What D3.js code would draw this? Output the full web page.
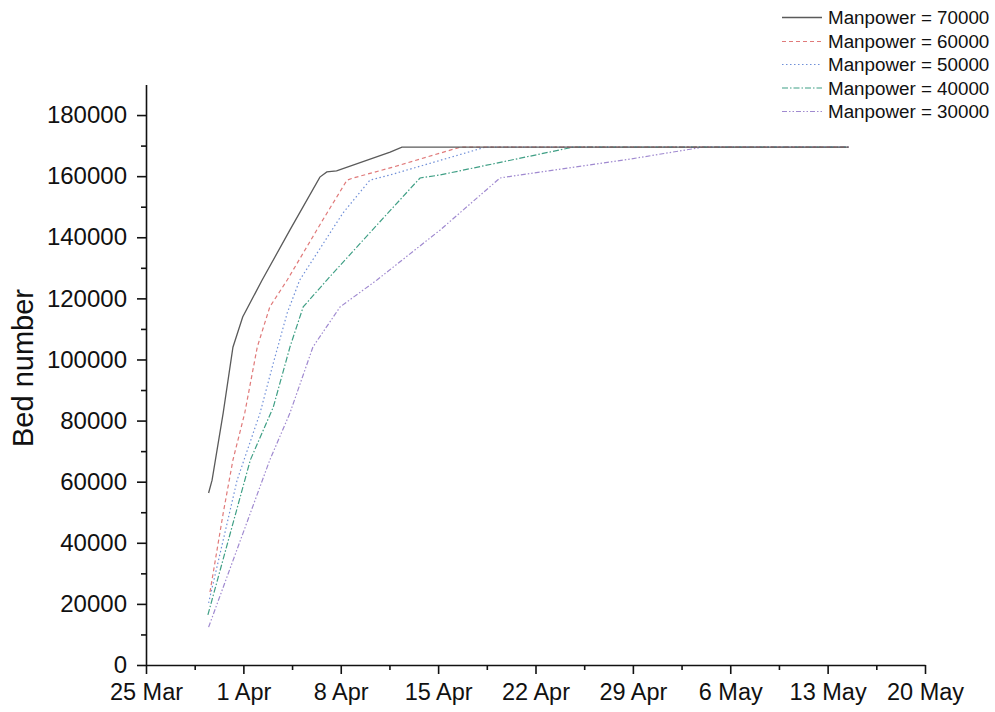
<!DOCTYPE html>
<html><head><meta charset="utf-8">
<script src="https://cdn.jsdelivr.net/npm/d3@7"></script>
<style>body{margin:0;background:#fff}text{font-family:"Liberation Sans",Arial,sans-serif}</style>
</head><body><svg id="c" width="995" height="712"></svg>
<script>
// Days are measured from 25 Mar 2020
const seriesNames = ["Manpower = 70000","Manpower = 60000","Manpower = 50000","Manpower = 40000","Manpower = 30000"];
const days70 = [4.5,4.75,5.55,6.25,6.95,8.35,10.35,12.5,13.0,13.7,17.55,18.4,50.5];
const beds70 = [56300,60500,82500,104000,113900,126000,142400,159700,161400,161700,167900,169500,169500];
const days60 = [4.6,5.55,6.25,7.1,8.0,8.9,10.15,12.7,14.45,14.9,17.55,22.6,50.5];
const beds60 = [23900,49700,67100,82500,104100,117200,126000,145600,158700,159400,162700,169500,169500];
const days50 = [4.5,6.55,8.2,9.15,10.15,11.05,14.15,16.1,17.55,24.4,50.5];
const beds50 = [20300,60500,82500,98800,115200,126000,147900,158700,160400,169500,169500];
const days40 = [4.45,7.5,9.15,10.35,11.3,13.0,16.8,19.7,21.15,30.7,50.5];
const beds40 = [16400,67100,84400,104100,117200,126000,145000,159400,160400,169500,169500];
const days30 = [4.5,8.9,10.35,12.0,13.95,16.6,21.15,25.45,26.9,34.8,40.05,50.5];
const beds30 = [12400,67100,82500,104100,117200,126000,142400,159400,160400,165600,169500,169500];
const xTickLabels = ["25 Mar","1 Apr","8 Apr","15 Apr","22 Apr","29 Apr","6 May","13 May","20 May"];
const yTicks = [0,20000,40000,60000,80000,100000,120000,140000,160000,180000];

const base = new Date(2020,2,25);
const toDate = d => new Date(base.getTime() + d*864e5);
const allDays = [days70,days60,days50,days40,days30];
const allBeds = [beds70,beds60,beds50,beds40,beds30];
const styles = [
  {color:"#5a5a5a", dash:null, w:1.3},
  {color:"#e07a7a", dash:"4,3", w:1.2},
  {color:"#6f8fd8", dash:"1.5,2.5", w:1.2},
  {color:"#3f9f85", dash:"6,2,1.5,2", w:1.2},
  {color:"#a08ad0", dash:"5,2,1.5,2,1.5,2", w:1.2}
];

const svg = d3.select("#c");
const x = d3.scaleTime().domain([base, toDate(56)]).range([146,925]);
const y = d3.scaleLinear().domain([0,190000]).range([665,84.5]);

// lines (draw lowest first so black is on top)
const line = d3.line().x(p=>x(p[0])).y(p=>y(p[1]));
for (let i=4;i>=0;i--){
  const pts = allDays[i].map((d,j)=>[toDate(d), allBeds[i][j]]);
  svg.append("path").datum(pts).attr("d",line).attr("fill","none")
    .attr("stroke",styles[i].color).attr("stroke-width",styles[i].w)
    .attr("stroke-dasharray",styles[i].dash);
}

// x axis
const xMajor = xTickLabels.map((t,i)=>toDate(i*7));
const xMinor = xTickLabels.slice(0,-1).map((t,i)=>toDate(i*7+3.5));
const gx = svg.append("g").attr("transform","translate(0,665)");
gx.call(d3.axisBottom(x).tickValues(xMinor).tickSize(5).tickFormat(""));
gx.call(g=>g.selectAll(".domain").remove());
const gx2 = svg.append("g").attr("transform","translate(0,665)")
  .call(d3.axisBottom(x).tickValues(xMajor).tickSize(9).tickSizeOuter(0).tickPadding(9)
    .tickFormat((d,i)=>xTickLabels[i]));
gx2.selectAll("text").attr("font-size",23.5).attr("fill","#111");

// y axis
const yMinor = d3.range(10000,190000,20000);
const gy = svg.append("g").attr("transform","translate(146,0)");
gy.call(d3.axisLeft(y).tickValues(yMinor).tickSize(5).tickFormat(""));
gy.call(g=>g.selectAll(".domain").remove());
const gy2 = svg.append("g").attr("transform","translate(146,0)")
  .call(d3.axisLeft(y).tickValues(yTicks).tickSize(9).tickSizeOuter(0).tickPadding(10).tickFormat(d3.format("d")));
gy2.selectAll("text").attr("font-size",24).attr("fill","#111");
svg.selectAll(".domain, .tick line").attr("stroke","#111").attr("stroke-width",1.6);

svg.append("text").attr("transform","translate(33,368) rotate(-90)")
  .attr("text-anchor","middle").attr("font-size",29).attr("fill","#111").text("Bed number");

// legend
const legY = [17.5,41.5,64.5,88,111.5];
seriesNames.forEach((n,i)=>{
  svg.append("line").attr("x1",782).attr("x2",822).attr("y1",legY[i]).attr("y2",legY[i])
    .attr("stroke",styles[i].color).attr("stroke-width",styles[i].w)
    .attr("stroke-dasharray",styles[i].dash);
  svg.append("text").attr("x",828).attr("y",legY[i]).attr("dy","0.35em")
    .attr("font-size",18.8).attr("fill","#111").text(n);
});
</script></body></html>
